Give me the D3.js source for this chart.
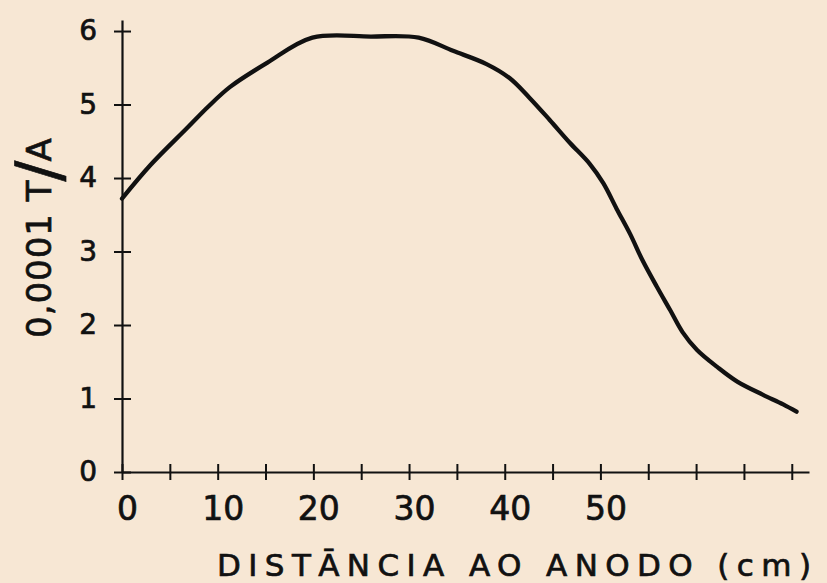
<!DOCTYPE html>
<html>
<head>
<meta charset="utf-8">
<script src="https://cdn.jsdelivr.net/npm/d3@7"></script>
<style>
  html, body { margin: 0; padding: 0; background: #f7e7d4; }
  svg { display: block; }
  text { font-family: "DejaVu Sans", sans-serif; fill: #111; stroke: #111; stroke-width: 0.7px; }
</style>
</head>
<body>
<svg id="chart" width="827" height="583"></svg>
<script>
// Distance from the anode (cm) and the measured value (units of 0,0001 T/A)
const distance = [0, 3, 6.8, 9, 11.3, 15.2, 19.9, 26, 31, 34.6, 38.1, 40.5, 42.6, 44.7,
  46.8, 48.9, 50.3, 51.7, 53.1, 54.4, 55.9, 57.3, 58.6, 60.1, 62.2, 64.3, 67.0, 69.1, 70.5];
const field = [3.72, 4.18, 4.68, 4.97, 5.24, 5.57, 5.91, 5.925, 5.91, 5.73, 5.55, 5.36, 5.09, 4.79,
  4.48, 4.19, 3.93, 3.58, 3.24, 2.88, 2.52, 2.2, 1.9, 1.66, 1.43, 1.23, 1.05, 0.92, 0.82];

const xTicks = d3.range(0, 71, 5);
const xLabels = [0, 10, 20, 30, 40, 50];
const yTicks = [0, 1, 2, 3, 4, 5, 6];
const xTitle = "DISTĀNCIA AO ANODO (cm)";
const yTitleMain = "0,0001 T";
const yTitleSlash = "/";
const yTitleEnd = "A";

const svg = d3.select("#chart");

const x = d3.scaleLinear().domain([0, 71.8]).range([122, 809]);
const y = d3.scaleLinear().domain([0, 6.15]).range([472, 20]);

const ink = "#111";

// x axis: crossing ticks every 5 cm, numbers every 10 cm up to 50
const gx = svg.append("g")
  .attr("transform", `translate(0,${y(0)})`)
  .call(d3.axisBottom(x)
    .tickValues(xTicks)
    .tickSize(8)
    .tickPadding(17)
    .tickSizeOuter(0)
    .tickFormat(d => xLabels.includes(d) ? d : ""));
gx.select(".domain").attr("stroke", ink).attr("stroke-width", 2.2);
gx.selectAll(".tick line").attr("y1", -8).attr("stroke", ink).attr("stroke-width", 2);
gx.selectAll(".tick text").attr("font-size", 33).attr("dx", 5);

// y axis with crossing ticks
const gy = svg.append("g")
  .attr("transform", `translate(${x(0)},0)`)
  .call(d3.axisLeft(y)
    .tickValues(yTicks)
    .tickFormat(d3.format("d"))
    .tickSize(8)
    .tickPadding(17)
    .tickSizeOuter(0));
gy.select(".domain").attr("stroke", ink).attr("stroke-width", 2.2);
gy.selectAll(".tick line").attr("x1", 9).attr("stroke", ink).attr("stroke-width", 2);
gy.selectAll(".tick text").attr("font-size", 28);
gx.attr("font-family", null);
gy.attr("font-family", null);

// the curve
const line = d3.line()
  .x((d, i) => x(distance[i]))
  .y(d => y(d))
  .curve(d3.curveCatmullRom.alpha(0.5));

svg.append("path")
  .datum(field)
  .attr("fill", "none")
  .attr("stroke", ink)
  .attr("stroke-width", 4.3)
  .attr("stroke-linejoin", "round")
  .attr("stroke-linecap", "round")
  .attr("d", line);

// x axis title
svg.append("text")
  .attr("x", 217)
  .attr("y", 576)
  .attr("font-size", 31)
  .attr("textLength", 594)
  .attr("lengthAdjust", "spacing")
  .text(xTitle);

// y axis title, reading upward, with a tall slash
const yt = svg.append("text")
  .attr("transform", "translate(51,338) rotate(-90)")
  .attr("font-size", 34)
  .attr("letter-spacing", 1);
yt.append("tspan").text(yTitleMain);
yt.append("tspan").attr("font-size", 62).attr("dy", 9).attr("dx", -2).text(yTitleSlash);
yt.append("tspan").attr("dy", -9).attr("dx", -2).text(yTitleEnd);
</script>
</body>
</html>
